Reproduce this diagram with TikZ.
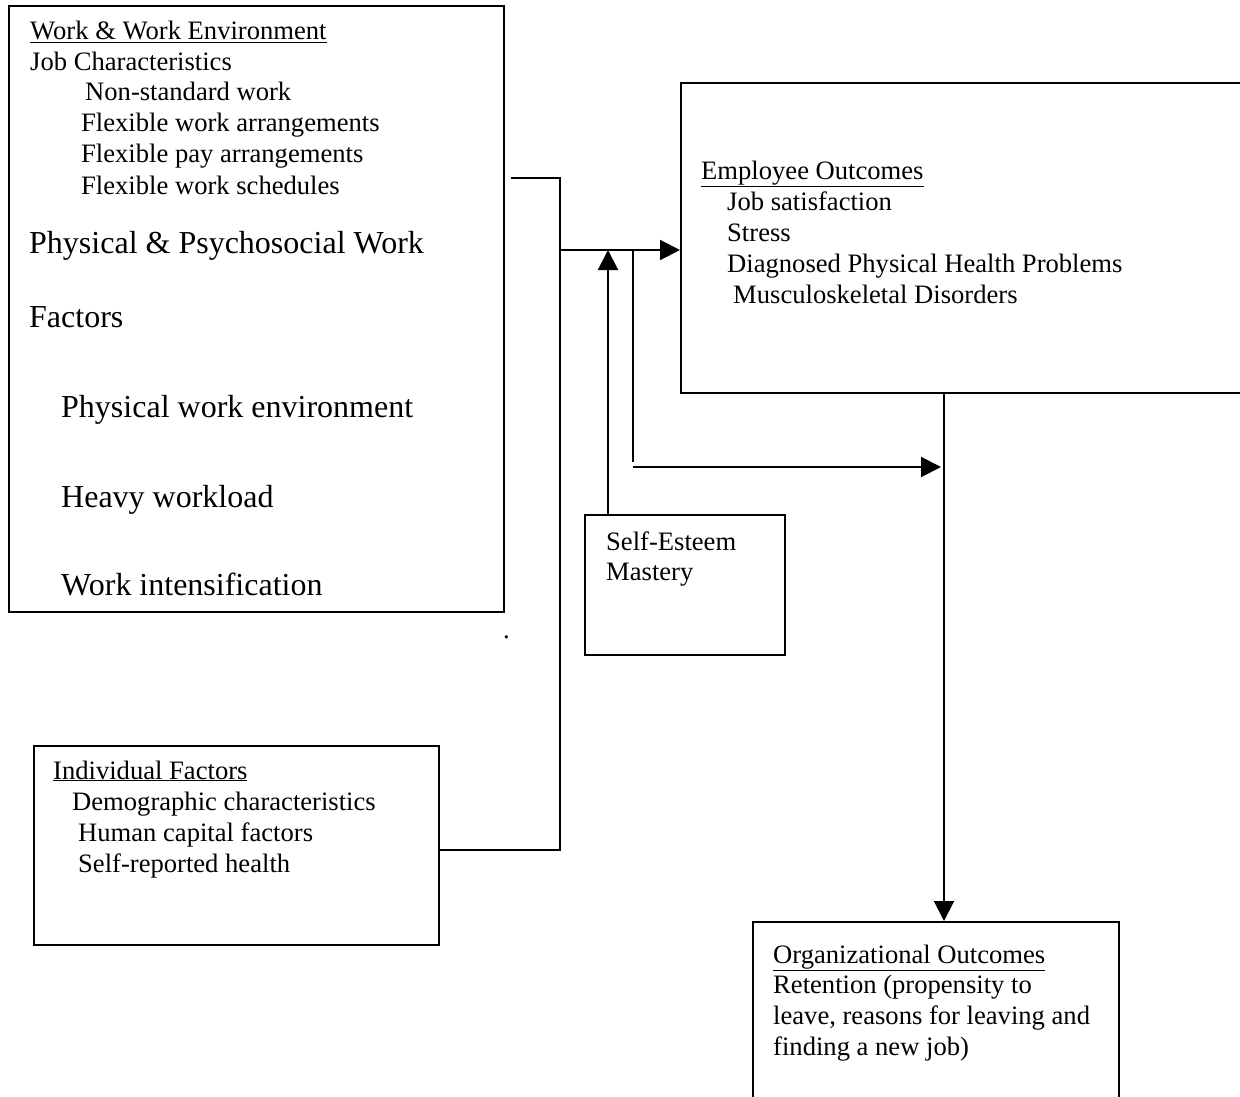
\documentclass[tikz,border=0pt]{standalone}
\usepackage{fontspec}
\setmainfont{Liberation Serif}
\usetikzlibrary{arrows.meta}
\begin{document}
\begin{tikzpicture}[x=1pt,y=1pt,
  box/.style={draw,line width=2pt,anchor=north west,inner sep=0pt},
  txt/.style={anchor=base west,inner sep=0pt,font=\fontsize{26.6}{30.6}\selectfont},
  big/.style={anchor=base west,inner sep=0pt,font=\fontsize{32}{36}\selectfont},
  conn/.style={line width=2pt},
  arr/.style={line width=2pt,-{Triangle[length=20pt,width=20pt]}}]
\useasboundingbox (0,0) rectangle (1240,-1097);
\clip (0,0) rectangle (1240,-1097);
% boxes
\node[box,minimum width=495pt,minimum height=606pt] (work) at (8,-5) {};
\node[box,minimum width=580pt,minimum height=310pt] (emp) at (680,-82) {};
\node[box,minimum width=200pt,minimum height=140pt] (se) at (584,-514) {};
\node[box,minimum width=405pt,minimum height=199pt] (ind) at (33,-745) {};
\node[box,minimum width=366pt,minimum height=200pt] (org) at (752,-921) {};
% work texts
\node[txt] (w1) at (30,-40) {\underline{Work \& Work Environment}};
\node[txt] (w2) at (30,-71) {Job Characteristics};
\node[txt] (w3) at (85,-101) {Non-standard work};
\node[txt] (w4) at (81,-132) {Flexible work arrangements};
\node[txt] (w5) at (81,-163) {Flexible pay arrangements};
\node[txt] (w6) at (81,-194) {Flexible work schedules};
\node[big] (w7) at (29,-253) {Physical \& Psychosocial Work};
\node[big] (w8) at (29,-327) {Factors};
\node[big] (w9) at (61,-417) {Physical work environment};
\node[big] (w10) at (61,-507) {Heavy workload};
\node[big] (w11) at (61,-595) {Work intensification};
\node[txt] (dot) at (503,-638) {.};
% employee texts
\node[txt] (e1) at (701,-179) {\underline{Employee Outcomes}};
\node[txt] (e2) at (727,-210) {Job satisfaction};
\node[txt] (e3) at (727,-241) {Stress};
\node[txt] (e4) at (727,-272) {Diagnosed Physical Health Problems};
\node[txt] (e5) at (733,-303) {Musculoskeletal Disorders};
% self-esteem
\node[txt] (s1) at (606,-550) {Self-Esteem};
\node[txt] (s2) at (606,-580) {Mastery};
% individual
\node[txt] (i1) at (53,-779) {\underline{Individual Factors}};
\node[txt] (i2) at (72,-810) {Demographic characteristics};
\node[txt] (i3) at (78,-841) {Human capital factors};
\node[txt] (i4) at (78,-872) {Self-reported health};
% organizational
\node[txt] (o1) at (773,-963) {\underline{Organizational Outcomes}};
\node[txt] (o2) at (773,-993) {Retention (propensity to};
\node[txt] (o3) at (773,-1024) {leave, reasons for leaving and};
\node[txt] (o4) at (773,-1055) {finding a new job)};
% connector points
\coordinate (a0) at (511,-178);
\coordinate (a1) at (560,-178);
\coordinate (a2) at (560,-250);
\coordinate (a3) at (560,-850);
\coordinate (b0) at (633,-250);
\coordinate (b1) at (633,-462);
\coordinate (b2) at (633,-467);
\coordinate (c0) at (944,-392);
\coordinate (c1) at (944,-921);
% connectors
\draw[conn] (a0) -- (a1) -- (a3) -- (ind.east |- a3);
\draw[arr] (a2) -- (emp.west |- a2);
\draw[arr] (se.north -| 608,0) -- (608,-250);
\draw[conn] (b0) -- (b1);
\draw[arr] (b2) -- (941,-467);
\draw[arr] (c0) -- (c1);
\end{tikzpicture}
\end{document}
